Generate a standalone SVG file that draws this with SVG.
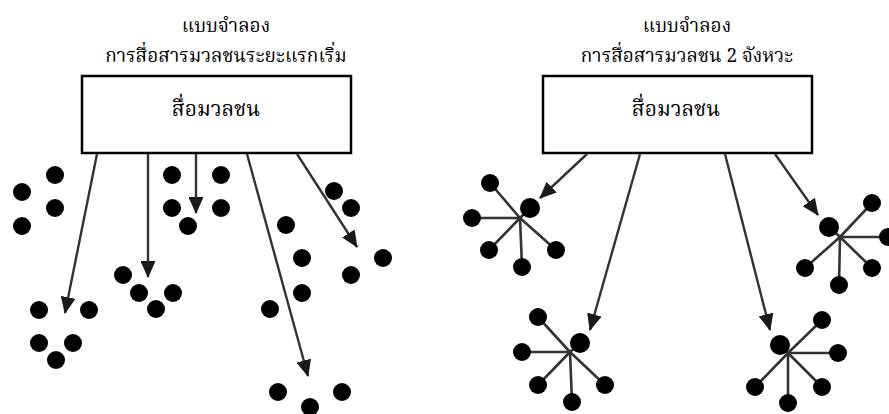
<svg xmlns="http://www.w3.org/2000/svg" width="889" height="414" viewBox="0 0 889 414">
<defs>
<style>
.t{font-family:"Noto Serif Thai","Noto Sans Thai","Liberation Serif","DejaVu Serif",serif;fill:#000;text-anchor:middle}
.title{font-size:19px}
.lbl{font-size:21px}
.box{fill:#fff;stroke:#000;stroke-width:2.5}
.arr{stroke:#333;stroke-width:2.4;fill:none;marker-end:url(#ah)}
.sp{stroke:#333;stroke-width:2.6}
.d{fill:#000}
</style>
<marker id="ah" viewBox="0 0 17 15" refX="16" refY="7.5" markerWidth="17" markerHeight="15" markerUnits="userSpaceOnUse" orient="auto">
<path d="M0,0 L17,7.5 L0,15 z" fill="#1a1a1a"/>
</marker>
</defs>
<rect width="889" height="414" fill="#fff"/>

<g id="title-left">
<text class="t title" x="226" y="32">แบบจำลอง</text>
<text class="t title" x="226" y="62">การสื่อสารมวลชนระยะแรกเริ่ม</text>
</g>
<g id="title-right">
<text class="t title" x="687" y="32">แบบจำลอง</text>
<text class="t title" x="687" y="62">การสื่อสารมวลชน 2 จังหวะ</text>
</g>

<g id="media-left">
<rect class="box" x="82" y="76" width="269" height="77"/>
<text class="t lbl" x="216" y="116">สื่อมวลชน</text>
</g>
<g id="media-right">
<rect class="box" x="543" y="76" width="269" height="77"/>
<text class="t lbl" x="676" y="116">สื่อมวลชน</text>
</g>

<g id="connectors">
<line class="arr" x1="97" y1="154" x2="65" y2="313"/>
<line class="arr" x1="148" y1="154" x2="148" y2="277"/>
<line class="arr" x1="196" y1="154" x2="196" y2="213"/>
<line class="arr" x1="247" y1="154" x2="308" y2="376"/>
<line class="arr" x1="297" y1="154" x2="357" y2="247"/>
<line class="arr" x1="587" y1="154" x2="540" y2="198"/>
<line class="arr" x1="640" y1="154" x2="590" y2="330"/>
<line class="arr" x1="775" y1="154" x2="818" y2="215"/>
<line class="arr" x1="725" y1="154" x2="770" y2="330"/>
</g>

<g id="audience-left">
<circle class="d" cx="55" cy="175" r="9"/>
<circle class="d" cx="22" cy="192" r="9"/>
<circle class="d" cx="55" cy="208" r="9"/>
<circle class="d" cx="22" cy="226" r="9"/>
<circle class="d" cx="172" cy="175" r="9"/>
<circle class="d" cx="221" cy="175" r="9"/>
<circle class="d" cx="172" cy="208" r="9"/>
<circle class="d" cx="221" cy="208" r="9"/>
<circle class="d" cx="188" cy="226" r="9"/>
<circle class="d" cx="123" cy="275" r="9"/>
<circle class="d" cx="139" cy="293" r="9"/>
<circle class="d" cx="173" cy="293" r="9"/>
<circle class="d" cx="156" cy="309" r="9"/>
<circle class="d" cx="39" cy="310" r="9"/>
<circle class="d" cx="89" cy="310" r="9"/>
<circle class="d" cx="39" cy="343" r="9"/>
<circle class="d" cx="73" cy="343" r="9"/>
<circle class="d" cx="56" cy="360" r="9"/>
<circle class="d" cx="334" cy="191" r="9"/>
<circle class="d" cx="351" cy="208" r="9"/>
<circle class="d" cx="286" cy="225" r="9"/>
<circle class="d" cx="302" cy="258" r="9"/>
<circle class="d" cx="383" cy="258" r="9"/>
<circle class="d" cx="351" cy="275" r="9"/>
<circle class="d" cx="302" cy="293" r="9"/>
<circle class="d" cx="270" cy="309" r="9"/>
<circle class="d" cx="278" cy="392" r="9"/>
<circle class="d" cx="342" cy="392" r="9"/>
<circle class="d" cx="310" cy="407" r="9"/>
</g>

<g id="group-1">
<line class="sp" x1="520" y1="218" x2="490" y2="183"/>
<line class="sp" x1="520" y1="218" x2="530" y2="208"/>
<line class="sp" x1="520" y1="218" x2="472" y2="218"/>
<line class="sp" x1="520" y1="218" x2="489" y2="250"/>
<line class="sp" x1="520" y1="218" x2="522" y2="267"/>
<line class="sp" x1="520" y1="218" x2="556" y2="250"/>
<circle class="d" cx="490" cy="183" r="9"/>
<circle class="d" cx="530" cy="208" r="10"/>
<circle class="d" cx="472" cy="218" r="9"/>
<circle class="d" cx="489" cy="250" r="9"/>
<circle class="d" cx="522" cy="267" r="9"/>
<circle class="d" cx="556" cy="250" r="9"/>
</g>
<g id="group-2">
<line class="sp" x1="570" y1="352" x2="538" y2="317"/>
<line class="sp" x1="570" y1="352" x2="580" y2="343"/>
<line class="sp" x1="570" y1="352" x2="522" y2="352"/>
<line class="sp" x1="570" y1="352" x2="538" y2="385"/>
<line class="sp" x1="570" y1="352" x2="572" y2="402"/>
<line class="sp" x1="570" y1="352" x2="605" y2="385"/>
<circle class="d" cx="538" cy="317" r="9"/>
<circle class="d" cx="580" cy="343" r="10"/>
<circle class="d" cx="522" cy="352" r="9"/>
<circle class="d" cx="538" cy="385" r="9"/>
<circle class="d" cx="572" cy="402" r="9"/>
<circle class="d" cx="605" cy="385" r="9"/>
</g>
<g id="group-3">
<line class="sp" x1="840" y1="237" x2="829" y2="227"/>
<line class="sp" x1="840" y1="237" x2="872" y2="203"/>
<line class="sp" x1="840" y1="237" x2="888" y2="237"/>
<line class="sp" x1="840" y1="237" x2="805" y2="268"/>
<line class="sp" x1="840" y1="237" x2="839" y2="285"/>
<line class="sp" x1="840" y1="237" x2="872" y2="268"/>
<circle class="d" cx="829" cy="227" r="10"/>
<circle class="d" cx="872" cy="203" r="9"/>
<circle class="d" cx="888" cy="237" r="9"/>
<circle class="d" cx="805" cy="268" r="9"/>
<circle class="d" cx="839" cy="285" r="9"/>
<circle class="d" cx="872" cy="268" r="9"/>
</g>
<g id="group-4">
<line class="sp" x1="788" y1="353" x2="780" y2="345"/>
<line class="sp" x1="788" y1="353" x2="822" y2="320"/>
<line class="sp" x1="788" y1="353" x2="838" y2="353"/>
<line class="sp" x1="788" y1="353" x2="755" y2="387"/>
<line class="sp" x1="788" y1="353" x2="788" y2="403"/>
<line class="sp" x1="788" y1="353" x2="822" y2="387"/>
<circle class="d" cx="780" cy="345" r="10"/>
<circle class="d" cx="822" cy="320" r="9"/>
<circle class="d" cx="838" cy="353" r="9"/>
<circle class="d" cx="755" cy="387" r="9"/>
<circle class="d" cx="788" cy="403" r="9"/>
<circle class="d" cx="822" cy="387" r="9"/>
</g>
</svg>
